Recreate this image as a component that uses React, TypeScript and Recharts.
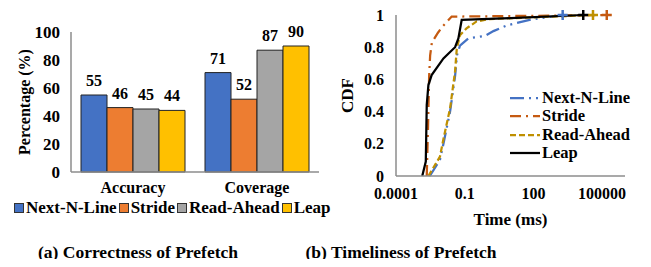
import React from 'react';
import {
  BarChart, Bar, LabelList, XAxis, YAxis, Legend,
  LineChart, Line,
} from 'recharts';

// (a) correctness
const categories = ['Accuracy', 'Coverage'];
const nextNLine = [55, 71];
const stride = [46, 52];
const readAhead = [45, 87];
const leap = [44, 90];
const yTicksA = [0, 20, 40, 60, 80, 100];

// (b) timeliness, time in ms (log axis) vs CDF
const nnlTime = [0.003, 0.0083, 0.0118, 0.023, 0.038, 0.046, 0.062, 0.145, 0.78, 1.8, 6.8, 18.6, 100, 380, 1900];
const nnlCdf = [0, 0.1, 0.2, 0.4, 0.62, 0.75, 0.81, 0.855, 0.87, 0.9, 0.935, 0.95, 0.975, 0.985, 1.0];
const strideTime = [0.0022, 0.0025, 0.0028, 0.0031, 0.0037, 0.0068, 0.011, 0.027, 100, 160000];
const strideCdf = [0, 0.3, 0.62, 0.75, 0.83, 0.89, 0.93, 0.99, 0.995, 1.0];
const raTime = [0.0026, 0.0083, 0.0118, 0.023, 0.038, 0.045, 0.062, 0.12, 0.33, 1.26, 40000];
const raCdf = [0, 0.12, 0.23, 0.42, 0.65, 0.79, 0.875, 0.917, 0.96, 0.975, 1.0];
const leapTime = [0.0014, 0.002, 0.0022, 0.0026, 0.0036, 0.0118, 0.023, 0.038, 0.053, 0.074, 10, 15000];
const leapCdf = [0, 0.09, 0.44, 0.565, 0.627, 0.73, 0.77, 0.8, 0.855, 0.97, 0.98, 1.0];
const xTicksB = [0.0001, 0.1, 100, 100000];
const yTicksB = [0, 0.2, 0.4, 0.6, 0.8, 1];

const barColors = ['#4472C4', '#ED7D31', '#A5A5A5', '#FFC000'];
const seriesNames = ['Next-N-Line', 'Stride', 'Read-Ahead', 'Leap'];
const lineColors = ['#4472C4', '#C55A11', '#BF9000', '#000000'];
const lineDash = ['14 5 2 5 2 5', '11 5 2 5', '6 3', undefined];

const FONT = '"Liberation Serif", "Times New Roman", serif';
const AXIS = '#8c8c8c';

const barData = categories.map((c, i) => ({
  name: c,
  nnl: nextNLine[i],
  stride: stride[i],
  ra: readAhead[i],
  leap: leap[i],
}));

const toPoints = (t: number[], y: number[]) => t.map((v, i) => ({ t: v, cdf: y[i] }));
const lineSeries = [
  toPoints(nnlTime, nnlCdf),
  toPoints(strideTime, strideCdf),
  toPoints(raTime, raCdf),
  toPoints(leapTime, leapCdf),
];

const plusDot = (n: number, color: string) => (props: any) => {
  const { cx, cy, index } = props;
  if (index !== n - 1) return <g key={`d${index}`} />;
  return (
    <path
      key={`d${index}`}
      d={`M${cx - 5},${cy}H${cx + 5}M${cx},${cy - 5}V${cy + 5}`}
      stroke={color}
      strokeWidth={2.5}
      fill="none"
    />
  );
};

const BarLegend = () => (
  <div style={{ display: 'flex', fontFamily: FONT, fontWeight: 700, fontSize: 17, lineHeight: '20px', color: '#000' }}>
    {seriesNames.map((n, i) => (
      <div key={n} style={{ display: 'flex', alignItems: 'center', marginRight: 2 }}>
        <span style={{ width: 8, height: 8, background: barColors[i], border: '1px solid #333', marginRight: 2 }} />
        <span>{n}</span>
      </div>
    ))}
  </div>
);

const LineLegend = () => (
  <div style={{ fontFamily: FONT, fontWeight: 700, fontSize: 16.5, lineHeight: '18px', color: '#000' }}>
    {seriesNames.map((n, i) => (
      <div key={n} style={{ display: 'flex', alignItems: 'center', height: 18.3 }}>
        <svg width={33} height={10}>
          <line x1={1} y1={5} x2={31} y2={5} stroke={lineColors[i]} strokeWidth={2.25} strokeDasharray={lineDash[i]} />
        </svg>
        <span>{n}</span>
      </div>
    ))}
  </div>
);

const tickStyle = { fontFamily: FONT, fontWeight: 700, fontSize: 16, fill: '#000' };
const bigTick = { ...tickStyle, fontSize: 17 };
const caption = { position: 'absolute' as const, width: 276, top: 241, lineHeight: '22px', textAlign: 'center' as const, fontWeight: 700, fontSize: 17.5 };

export default function App() {
  return (
    <div style={{ position: 'relative', width: 651, height: 267, margin: -8, background: '#fff', fontFamily: FONT }}>
      <div style={{ position: 'absolute', left: 0, top: 0 }}>
        <BarChart width={330} height={230} data={barData} margin={{ top: 32, right: 11, left: 0, bottom: 28 }}
          barCategoryGap={10} barGap={0}>
          <XAxis dataKey="name" tickLine={false} axisLine={{ stroke: AXIS, strokeWidth: 1.5 }} tick={tickStyle} tickMargin={4} height={30} />
          <YAxis domain={[0, 100]} ticks={yTicksA} tickLine={false} axisLine={{ stroke: AXIS, strokeWidth: 1.5 }} tick={bigTick}
            tickMargin={5} width={71}
            label={{ value: 'Percentage (%)', angle: -90, position: 'insideLeft', offset: 24, style: { ...tickStyle, textAnchor: 'middle' } }} />
          <Legend layout="vertical" align="center" verticalAlign="middle" content={<BarLegend />}
            wrapperStyle={{ left: 14, top: 198, width: 340 }} />
          {['nnl', 'stride', 'ra', 'leap'].map((k, i) => (
            <Bar key={k} dataKey={k} name={seriesNames[i]} fill={barColors[i]} stroke="#222" strokeWidth={1} isAnimationActive={false}>
              <LabelList dataKey={k} position="top" offset={9} style={tickStyle} />
            </Bar>
          ))}
        </BarChart>
      </div>
      <div style={{ position: 'absolute', left: 330, top: 0 }}>
        <LineChart width={321} height={230} margin={{ top: 15, right: 26, left: 0, bottom: 14 }}>
          <XAxis dataKey="t" type="number" scale="log" domain={[0.0001, 1000000]} ticks={xTicksB} allowDataOverflow
            tickFormatter={(v: number) => String(v)} tickLine={false} axisLine={{ stroke: AXIS, strokeWidth: 1.5 }}
            tick={tickStyle} tickMargin={6} height={40}
            label={{ value: 'Time (ms)', position: 'insideBottom', offset: -9, style: { ...tickStyle, fontSize: 17 } }} />
          <YAxis type="number" domain={[0, 1]} ticks={yTicksB} tickLine={false} axisLine={{ stroke: AXIS, strokeWidth: 1.5 }}
            tick={tickStyle} tickMargin={6} width={66}
            label={{ value: 'CDF', angle: -90, position: 'insideLeft', offset: 17, style: { ...tickStyle, fontSize: 17, textAnchor: 'middle' } }} />
          <Legend layout="vertical" align="center" verticalAlign="middle" content={<LineLegend />}
            wrapperStyle={{ left: 179, top: 89, width: 140 }} />
          {lineSeries.map((pts, i) => (
            <Line key={seriesNames[i]} data={pts} dataKey="cdf" name={seriesNames[i]} type="linear"
              stroke={lineColors[i]} strokeWidth={2.25} strokeDasharray={lineDash[i]}
              dot={plusDot(pts.length, lineColors[i])} activeDot={false} isAnimationActive={false} />
          ))}
        </LineChart>
      </div>
      <div style={{ ...caption, left: 0 }}>(a) Correctness of Prefetch</div>
      <div style={{ ...caption, left: 263 }}>(b) Timeliness of Prefetch</div>
    </div>
  );
}
